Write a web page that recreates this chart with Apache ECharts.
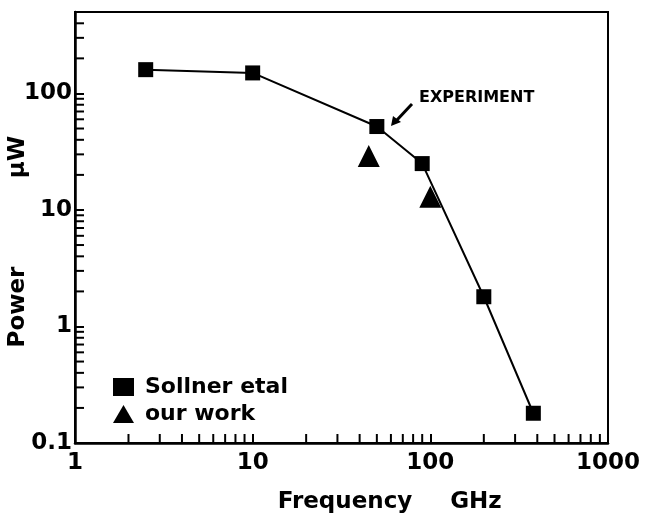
<!DOCTYPE html>
<html>
<head>
<meta charset="utf-8">
<script src="https://cdn.jsdelivr.net/npm/echarts@6/dist/echarts.min.js"></script>
<style>
  html, body { margin: 0; padding: 0; background: #fff; }
  #chart { width: 654px; height: 517px; }
</style>
</head>
<body>
<div id="chart"></div>
<script>
// data
const sollnerFreq = [2.5, 10, 50, 90, 200, 380];
const sollnerPower = [160, 150, 52, 25, 1.8, 0.18];
const ourFreq = [45, 100];
const ourPower = [29, 13];

// minor tick positions (log axes)
const xMinor = [2, 3, 4, 5, 6, 7, 8, 9, 20, 30, 40, 50, 60, 70, 80, 90, 200, 300, 400, 500, 600, 700, 800, 900];
const yMinor = [0.2, 0.3, 0.4, 0.5, 0.6, 0.7, 0.8, 0.9, 2, 3, 4, 5, 6, 7, 8, 9, 20, 30, 40, 50, 60, 70, 80, 90, 200, 300, 400];

const font = 'DejaVu Sans';
const chart = echarts.init(document.getElementById('chart'));

const option = {
  backgroundColor: '#fff',
  animation: false,
  grid: { left: 75, right: 46, top: 12, bottom: 74, show: true, borderColor: '#000', borderWidth: 2 },
  xAxis: {
    type: 'log', logBase: 10, min: 1, max: 1000,
    axisLine: { lineStyle: { color: '#000', width: 2.5 } },
    axisTick: { inside: true, length: 9, lineStyle: { color: '#000', width: 2 } },
    splitLine: { show: false },
    axisLabel: { color: '#000', fontSize: 23, fontWeight: 'bold', fontFamily: font, margin: 9,
      formatter: v => String(v) }
  },
  yAxis: {
    type: 'log', logBase: 10, min: 0.1, max: 500,
    axisLine: { show: true, lineStyle: { color: '#000', width: 2.5 } },
    axisTick: { show: true, inside: true, length: 9, lineStyle: { color: '#000', width: 2 } },
    splitLine: { show: false },
    axisLabel: { color: '#000', fontSize: 23, fontWeight: 'bold', fontFamily: font, margin: 3, showMaxLabel: false,
      formatter: v => String(v) }
  },
  legend: {
    orient: 'vertical', left: 108, top: 371, itemGap: 5,
    itemWidth: 21, itemHeight: 18,
    textStyle: { color: '#000', fontSize: 22, fontWeight: 'bold', fontFamily: font, padding: [0, 0, 0, 6] },
    data: [
      { name: 'Sollner etal', icon: 'rect' },
      { name: 'our work', icon: 'triangle' }
    ]
  },
  series: [
    {
      name: 'Sollner etal', type: 'line',
      data: sollnerFreq.map((f, i) => [f, sollnerPower[i]]),
      symbol: 'rect', symbolSize: 15,
      lineStyle: { color: '#000', width: 2 },
      itemStyle: { color: '#000' }
    },
    {
      name: 'our work', type: 'scatter',
      data: ourFreq.map((f, i) => [f, ourPower[i]]),
      symbol: 'triangle', symbolSize: 22,
      itemStyle: { color: '#000', opacity: 1 }
    },
    {
      type: 'custom', silent: true,
      data: xMinor.map(v => [v, 0.1]),
      renderItem: (params, api) => {
        const p = api.coord([api.value(0), 0.1]);
        return { type: 'line', shape: { x1: p[0], y1: p[1], x2: p[0], y2: p[1] - 9 },
          style: { stroke: '#000', lineWidth: 2 } };
      }
    },
    {
      type: 'custom', silent: true,
      data: yMinor.map(v => [1, v]),
      renderItem: (params, api) => {
        const p = api.coord([1, api.value(1)]);
        return { type: 'line', shape: { x1: p[0], y1: p[1], x2: p[0] + 9, y2: p[1] },
          style: { stroke: '#000', lineWidth: 2 } };
      }
    }
  ],
  graphic: [
    { type: 'text', left: 419, top: 90,
      style: { text: 'EXPERIMENT', fill: '#000', font: 'bold 16px "DejaVu Sans"' } },
    { type: 'line', shape: { x1: 412, y1: 104, x2: 396, y2: 121 },
      style: { stroke: '#000', lineWidth: 3 } },
    { type: 'polygon', shape: { points: [[391, 126], [393, 116], [401, 122]] },
      style: { fill: '#000' } },
    { type: 'text', x: 18, y: 307, rotation: Math.PI / 2,
      style: { text: 'Power', fill: '#000', font: 'bold 23px "DejaVu Sans"', align: 'center', verticalAlign: 'middle' } },
    { type: 'text', x: 18, y: 157, rotation: Math.PI / 2,
      style: { text: 'μW', fill: '#000', font: 'bold 23px "DejaVu Sans"', align: 'center', verticalAlign: 'middle' } },
    { type: 'text', x: 345, y: 502,
      style: { text: 'Frequency', fill: '#000', font: 'bold 23px "DejaVu Sans"', align: 'center', verticalAlign: 'middle' } },
    { type: 'text', x: 476, y: 502,
      style: { text: 'GHz', fill: '#000', font: 'bold 23px "DejaVu Sans"', align: 'center', verticalAlign: 'middle' } }
  ]
};
chart.setOption(option);
</script>
</body>
</html>
